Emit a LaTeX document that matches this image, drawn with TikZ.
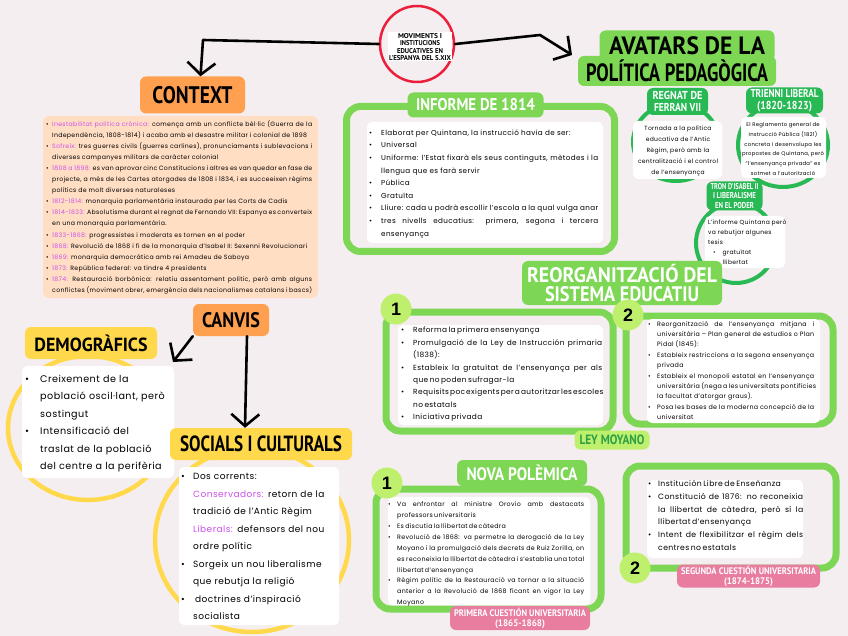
\documentclass[tikz,border=0pt]{standalone}
\usepackage{fontspec}
\usepackage{graphicx}
\setmainfont{Poppins}[LetterSpace=5]
\newfontfamily\hf{PT Sans}
\newfontfamily\nf{Liberation Sans}
\usetikzlibrary{arrows.meta,shapes.geometric}
\hyphenpenalty=10000
\exhyphenpenalty=10000
\tolerance=9999
\emergencystretch=3em
\definecolor{bg}{RGB}{245,238,240}
\definecolor{orng}{RGB}{255,160,80}
\definecolor{peach}{RGB}{255,222,196}
\definecolor{purp}{RGB}{205,80,235}
\definecolor{yel}{RGB}{255,216,75}
\definecolor{grn}{RGB}{125,215,85}
\definecolor{dgrn}{RGB}{40,185,85}
\definecolor{mgrn}{RGB}{45,160,70}
\definecolor{lgrn}{RGB}{190,240,110}
\definecolor{pnk}{RGB}{232,125,160}
\definecolor{redc}{RGB}{235,30,60}
\newlength\bw
\newcommand\hdg[3]{\resizebox{#1pt}{\height}{\hf\bfseries\fontsize{#2}{#2}\selectfont #3}}
\newcommand\bitem{\par\noindent\hangindent=\bw\hangafter=1\makebox[\bw][l]{\textbullet}\ignorespaces}
\newcommand\sitem{\par\noindent\hangindent=\bw\hangafter=1\hspace*{\bw}\ignorespaces}
\newcommand\pl[1]{\textcolor{purp}{#1}}
\newcommand\narrowsp{\spaceskip=0.2em plus 0.6em minus 0.05em\relax}
\tikzset{
  arr/.style={line width=2.6pt, -{Straight Barb[length=12pt,width=28pt]}},
  gframe/.style={draw=grn, line width=7pt, rounded corners=14pt},
  wbox/.style={fill=white, rounded corners=5pt},
  lab/.style={rounded corners=6pt, inner sep=0pt, align=center},
  txt/.style={anchor=north west, inner sep=0pt, align=justify},
  numc/.style={circle, fill=lgrn, minimum size=31pt, inner sep=0pt, font=\nf\bfseries\fontsize{18}{18}\selectfont},
}
\begin{document}
\begin{tikzpicture}[x=1pt, y=-1pt, line cap=round, line join=round]
\fill[bg] (0,0) rectangle (848,636);
\useasboundingbox (0,0) rectangle (848,636);

% ---------- title ----------
\node[ellipse, draw=redc, line width=2.5pt, minimum width=74pt, minimum height=76pt, inner sep=0pt] (title) at (417,44) {};
\node[fill=white, inner sep=1pt, align=center, font=\fontsize{7}{7.3}\selectfont] (ttext) at (420,47)
  {\hdg{44}{7}{MOVIMENTS I}\\\hdg{40}{7}{INSTITUCIONS}\\\hdg{46}{7}{EDUCATIVES EN}\\\hdg{62}{7}{L'ESPANYA DEL S.XIX}};

% ---------- context ----------
\node[lab, fill=orng, minimum width=105pt, minimum height=37pt] (ctx) at (192.5,95) {\hdg{80}{24}{CONTEXT}};
\fill[peach, rounded corners=6pt] (43,116) rectangle (318,298);
\node[txt, text width=266pt, font=\fontsize{6.2}{11.1}\selectfont] (ctxt) at (46,114.8) {\setlength\bw{6pt}%
\bitem\pl{Inestabilitat política crònica:} comença amb un conflicte bèl·lic (Guerra de la Independència, 1808-1814) i acaba amb el desastre militar i colonial de 1898
\bitem\pl{Sofreix:} tres guerres civils (guerres carlines), pronunciaments i sublevacions i diverses campanyes militars de caràcter colonial
\bitem\pl{1808 a 1898:} es van aprovar cinc Constitucions i altres es van quedar en fase de projecte, a més de les Cartes atorgades de 1808 i 1834, i es succeeixen règims polítics de molt diverses naturaleses
\bitem\pl{1812-1814:} monarquia parlamentària instaurada per les Corts de Cadis
\bitem\pl{1814-1833:} Absolutisme durant el regnat de Fernando VII: Espanya es converteix en una monarquia parlamentària.
\bitem\pl{1833-1868:} progressistes i moderats es tornen en el poder
\bitem\pl{1868:} Revolució de 1868 i fi de la monarquia d'Isabel II: Sexenni Revolucionari
\bitem\pl{1869:} monarquia democràtica amb rei Amadeu de Saboya
\bitem\pl{1873:} República federal: va tindre 4 presidents
\bitem\pl{1874:} Restauració borbònica: relatiu assentament polític, però amb alguns conflictes (moviment obrer, emergència dels nacionalismes catalans i bascs)\par};

% ---------- canvis ----------
\node[lab, fill=orng, minimum width=76pt, minimum height=32pt] (canvis) at (231,320) {\hdg{58}{21}{CANVIS}};

% demografics
\draw[yel, line width=4.5pt] (88,428) ellipse [x radius=80pt, y radius=72pt];
\node[lab, fill=yel, minimum width=132pt, minimum height=32pt] (demo) at (91,343) {\hdg{113}{19}{DEMOGRÀFICS}};
\fill[wbox] (22,366) rectangle (174,478);
\node[txt, align=left, text width=150pt, font=\fontsize{9.6}{17.4}\selectfont] (demot) at (25,364.8) {\setlength\bw{15pt}%
\bitem Creixement de la\newline població oscil·lant, però\newline sostingut
\bitem Intensificació del\newline traslat de la població\newline del centre a la perifèria\par};

% socials
\draw[yel, line width=4.5pt] (252,540) ellipse [x radius=97pt, y radius=92pt];
\node[lab, fill=yel, minimum width=182pt, minimum height=32pt] (soc) at (261,444) {\hdg{162}{22}{SOCIALS I CULTURALS}};
\fill[wbox] (179,467) rectangle (339,625);
\node[txt, align=left, text width=154pt, font=\fontsize{9}{17.5}\selectfont] (soct) at (181,462) {\setlength\bw{12pt}%
\bitem Dos corrents:
\sitem\pl{Conservadors:} retorn de la tradició de l'Antic Règim
\sitem\pl{Liberals:} defensors del nou ordre polític
\bitem Sorgeix un nou liberalisme que rebutja la religió
\bitem\hspace{2pt}doctrines d'inspiració socialista\par};

% ---------- avatars ----------
\node[lab, fill=grn, minimum width=175pt, minimum height=31pt] (av1) at (687,46) {\hdg{156}{25}{AVATARS DE LA}};
\node[lab, fill=grn, minimum width=198pt, minimum height=30pt] (av2) at (677,71) {\hdg{182}{25}{POLÍTICA PEDAGÒGICA}};

% regnat
\draw[dgrn, line width=4pt] (676,142) ellipse [x radius=43pt, y radius=39pt];
\node[lab, fill=dgrn, text=white, minimum width=61pt, minimum height=27pt, font=\fontsize{11.5}{11.5}\selectfont] (regnat) at (677.5,101.5) {\hdg{50}{11.5}{REGNAT DE}\\\hdg{47}{11.5}{FERRAN VII}};
\fill[wbox] (633,121) rectangle (722,179);
\node[align=center, inner sep=0pt, font=\fontsize{6}{11.2}\selectfont] (regt) at (678,151)
  {Tornada a la política\\educativa de l'Antic\\Règim, però amb la\\centralització i el control\\de l'ensenyança};

% trienni
\draw[dgrn, line width=4pt] (783,145) ellipse [x radius=45pt, y radius=42pt];
\node[lab, fill=dgrn, text=white, minimum width=77pt, minimum height=26pt, font=\fontsize{11.5}{11.5}\selectfont] (trienni) at (784.5,100.5) {\hdg{68}{11.5}{TRIENNI LIBERAL}\\\hdg{55}{11.5}{(1820-1823)}};
\fill[wbox] (741,117) rectangle (826,178);
\node[align=center, inner sep=0pt, font=\fontsize{5.3}{9.8}\selectfont] (trit) at (783,149)
  {El Reglamento general de\\Instrucció Pública (1821)\\concreta i desenvolupa les\\propostes de Quintana, però\\``l'ensenyança privada'' es\\sotmet a l'autorització};

% tron
\draw[dgrn, line width=4pt] (736,243) ellipse [x radius=40pt, y radius=40pt];
\node[lab, fill=dgrn, text=white, minimum width=56pt, minimum height=29pt, font=\fontsize{9.3}{9.3}\selectfont] (tron) at (734.5,196) {\hdg{48}{8.5}{TRON D'ISABEL II}\\\hdg{43}{8.5}{I LIBERALISME}\\\hdg{39}{8.5}{EN EL PODER}};
\fill[wbox] (705,216) rectangle (785,268);
\node[anchor=west, align=left, inner sep=0pt, font=\fontsize{6}{10}\selectfont] (tront) at (708,242)
  {L'informe Quintana però\\va rebutjar algunes\\tesis\\\hspace*{5pt}\textbullet\hspace{7pt}gratuïtat\\\hspace*{5pt}\textbullet\hspace{7pt}llibertat};

% ---------- informe ----------
\draw[gframe] (346.5,106.5) rectangle (614.5,251.5);
\node[lab, fill=grn, text=white, minimum width=136pt, minimum height=25pt] (inf) at (475.5,105) {\hdg{119}{17}{INFORME DE 1814}};
\fill[wbox] (367,122) rectangle (603,243);
\node[txt, text width=229pt, font=\fontsize{7.2}{12.6}\selectfont] (inft) at (369,122.5) {\setlength\bw{12pt}%
\bitem Elaborat per Quintana, la instrucció havia de ser:
\bitem Universal
\bitem Uniforme: l'Estat fixarà els seus continguts, mètodes i la llengua que es farà servir
\bitem Pública
\bitem Gratuïta
\bitem Lliure: cada u podrà escollir l'escola a la qual vulga anar
\bitem tres nivells educatius: primera, segona i tercera ensenyança\par};

% ---------- reorganitzacio ----------
\node[lab, fill=grn, text=white, minimum width=200pt, minimum height=44pt, font=\fontsize{19}{19}\selectfont] (reorg) at (622,283) {\hdg{190}{21}{REORGANITZACIÓ DEL}\\\hdg{154}{21}{SISTEMA EDUCATIU}};

\draw[gframe] (386,312) rectangle (613,431);
\fill[wbox] (398,325) rectangle (603,425);
\node[txt, text width=201pt, font=\fontsize{7.4}{12.4}\selectfont] (r1t) at (401,320.3) {\setlength\bw{12pt}\narrowsp
\bitem Reforma la primera ensenyança
\bitem Promulgació de la Ley de Instrucción primaria (1838):
\bitem Estableix la gratuïtat de l'ensenyança per als que no poden sufragar-la
\bitem Requisits poc exigents per a autoritzar les escoles no estatals
\bitem Iniciativa privada\par};
\node[numc] (n1) at (396,309) {1};
\node[lab, fill=lgrn, text=mgrn, minimum width=75pt, minimum height=19pt] (moyano) at (612,440) {\hdg{65}{13.5}{LEY MOYANO}};

\draw[gframe] (626,316) rectangle (833,424);
\fill[wbox] (647,319) rectangle (820,423);
\node[txt, text width=166pt, font=\fontsize{6.3}{10.4}\selectfont] (r2t) at (648,315.5) {\setlength\bw{9pt}%
\bitem Reorganització de l'ensenyança mitjana i universitària – Plan general de estudios o Plan Pidal (1845):
\bitem Estableix restriccions a la segona ensenyança privada
\bitem Estableix el monopoli estatal en l'ensenyança universitària (nega a les universitats pontifícies la facultat d'atorgar graus).
\bitem Posa les bases de la moderna concepció de la universitat\par};
\node[numc] (n2) at (628,315) {2};

% ---------- nova polemica ----------
\draw[gframe] (376,489) rectangle (601,609);
\node[lab, fill=grn, text=white, minimum width=130pt, minimum height=26pt] (nova) at (522,473) {\hdg{111}{18}{NOVA POLÈMICA}};
\fill[wbox] (388,497) rectangle (590,605);
\node[txt, text width=196pt, font=\fontsize{6.3}{10.9}\selectfont] (novat) at (388,495.5) {\setlength\bw{9pt}\narrowsp
\bitem Va enfrontar al ministre Orovio amb destacats professors universitaris
\bitem Es discutia la llibertat de càtedra
\bitem Revolució de 1868: va permetre la derogació de la Ley Moyano i la promulgació dels decrets de Ruiz Zorilla, on es reconeixia la llibertat de càtedra i s'establia una total llibertat d'ensenyança
\bitem Règim polític de la Restauració va tornar a la situació anterior a la Revolució de 1868 ficant en vigor la Ley Moyano\par};
\node[numc] (n3) at (387,483) {1};
\node[lab, fill=pnk, text=white, minimum width=140pt, minimum height=24pt, font=\fontsize{10}{10}\selectfont] (pq1) at (520,618) {\hdg{132}{9.5}{PRIMERA CUESTIÓN UNIVERSITARIA}\\\hdg{50}{9.5}{(1865-1868)}};

% ---------- segona ----------
\draw[gframe] (626,466) rectangle (836,568);
\fill[wbox] (647,480) rectangle (803,558);
\node[txt, text width=155pt, font=\fontsize{7.7}{12.8}\selectfont] (s2t) at (648,473.5) {\setlength\bw{10pt}\narrowsp
\bitem Institución Libre de Enseñanza
\bitem Constitució de 1876: no reconeixia la llibertat de càtedra, però sí la llibertat d'ensenyança
\bitem Intent de flexibilitzar el règim dels centres no estatals\par};
\node[numc] (n4) at (635,568) {2};
\node[lab, fill=pnk, text=white, minimum width=143pt, minimum height=23pt, font=\fontsize{10}{10}\selectfont] (pq2) at (748.5,576) {\hdg{135}{9.5}{SEGUNDA CUESTIÓN UNIVERSITARIA}\\\hdg{49}{9.5}{(1874-1875)}};

% ---------- arrows ----------
\coordinate (b0) at (203,40);
\draw[arr] (title.west) -- (b0) -- ([xshift=8pt]ctx.north);
\coordinate (b1) at (540,35);
\coordinate (t1) at (572,55);
\draw[arr] (title.east) -- (b1) -- (t1);
\coordinate (t3) at (173,362);
\draw[arr] (canvis.south west) -- (t3);
\draw[arr] ([xshift=16pt]canvis.south) -- ([xshift=-16pt]soc.north);
\end{tikzpicture}
\end{document}
